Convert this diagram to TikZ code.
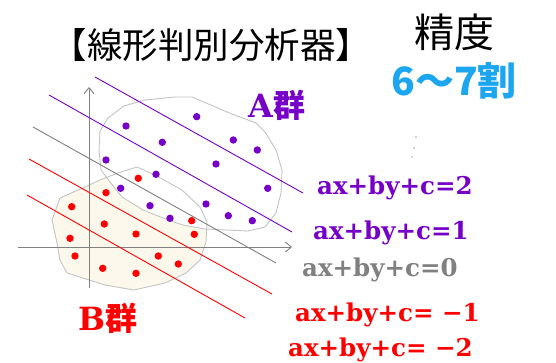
\documentclass[tikz,border=0pt]{standalone}
\usepackage{fontspec}
\setmainfont{DejaVu Serif}
\newfontfamily\jp{Noto Sans CJK JP}
\usetikzlibrary{arrows.meta}
\definecolor{apurple}{RGB}{118,0,200}
\definecolor{bred}{RGB}{255,0,0}
\definecolor{lgray}{RGB}{196,196,196}
\definecolor{axgray}{RGB}{128,128,128}
\definecolor{cream}{RGB}{253,248,236}
\definecolor{skyblue}{RGB}{28,166,240}
\tikzset{
  sepline/.style={line width=0.9pt},
  clusterline/.style={draw=lgray,line width=0.9pt},
  axisline/.style={draw=axgray,line width=0.9pt,-{Straight Barb[length=6pt,width=10pt]}},
  eqtext/.style={anchor=base west,inner sep=0pt,font=\bfseries\fontsize{24.5}{24.5}\selectfont},
  grouptext/.style={anchor=base west,inner sep=0pt,font=\bfseries\fontsize{32}{32}\selectfont},
}
\begin{document}
\begin{tikzpicture}[x=1pt,y=-1pt]
\useasboundingbox (0,0) rectangle (556,363);
% cluster B (filled)
\fill[cream] (60,198) -- (52,220) -- (57,243) -- (60,260) -- (67,273) -- (105,285) -- (134,290) -- (165,283) -- (186,273) -- (200,260) -- (206,242) -- (207,222) -- (200,207) -- (182,190) -- (155,175) -- (137,167) -- (118,173) -- (100,180) -- (85,187) -- cycle;
% cluster A (white fill)
\fill[white] (100,131) -- (108,118) -- (124,106) -- (145,100) -- (175,97) -- (192,97) -- (206,103) -- (232,114) -- (256,123) -- (265,132) -- (276,150) -- (282,170) -- (281,193) -- (276,213) -- (265,227) -- (248,231) -- (205,229) -- (183,225) -- (168,220) -- (143,210) -- (122,197) -- (110,182) -- (101,170) -- (99,150) -- cycle;
\draw[clusterline] (60,198) -- (52,220) -- (57,243) -- (60,260) -- (67,273) -- (105,285) -- (134,290) -- (165,283) -- (186,273) -- (200,260) -- (206,242) -- (207,222) -- (200,207) -- (182,190) -- (155,175) -- (137,167) -- (118,173) -- (100,180) -- (85,187) -- cycle;
\draw[clusterline] (100,131) -- (108,118) -- (124,106) -- (145,100) -- (175,97) -- (192,97) -- (206,103) -- (232,114) -- (256,123) -- (265,132) -- (276,150) -- (282,170) -- (281,193) -- (276,213) -- (265,227) -- (248,231) -- (205,229) -- (183,225) -- (168,220) -- (143,210) -- (122,197) -- (110,182) -- (101,170) -- (99,150) -- cycle;
% axes
\coordinate (yb) at (89,288);
\coordinate (yt) at (89,87);
\coordinate (xl) at (18,247);
\coordinate (xr) at (292,247);
\draw[axisline] (yb) -- (yt);
\draw[axisline] (xl) -- (xr);
% separating lines
\coordinate (p2a) at (95,77);  \coordinate (p2b) at (303,193);
\coordinate (p1a) at (49,95);  \coordinate (p1b) at (292,232);
\coordinate (p0a) at (33,127); \coordinate (p0b) at (276,263);
\coordinate (m1a) at (29,159); \coordinate (m1b) at (272,294);
\coordinate (m2a) at (27,195); \coordinate (m2b) at (245,318);
\draw[sepline,apurple] (p2a) -- (p2b);
\draw[sepline,apurple] (p1a) -- (p1b);
\draw[sepline,axgray] (p0a) -- (p0b);
\draw[sepline,bred] (m1a) -- (m1b);
\draw[sepline,bred] (m2a) -- (m2b);
% A points
\foreach \x/\y in {196.7/116.7,126/126,162.3/142.3,233.3/140,257.3/150,106/160,216/164,156/174.3,120.7/188.3,267.7/188.3,206/204,150/205.7,228.3/215.7,170/218.3,252.3/220.7}
  \fill[apurple] (\x,\y) circle (3.7);
% B points
\foreach \x/\y in {138.3/178.3,106/192.7,71.7/206.7,104.3/224,136/234,191.7/220.7,194.3/234.3,70/238.3,75/256,158.3/256,178.3/264,102.7/268.3,136/273.3}
  \fill[bred] (\x,\y) circle (3.7);
% faint dots
\foreach \x/\y in {416/137,414/148,412/157}
  \fill[axgray!70] (\x,\y) circle (0.8);
% texts
\node[font=\jp\fontsize{35.5}{35.5}\selectfont,inner sep=0pt] (title) at (211.5,45) {【線形判別分析器】};
\node[font=\jp\fontsize{40}{40}\selectfont,inner sep=0pt] (acc) at (454,32) {精度};
\node[font=\jp\bfseries\fontsize{39}{39}\selectfont,text=skyblue,inner sep=0pt] (accval) at (454,81) {6〜7割};
\node[grouptext,text=apurple] (lblA) at (248,118) {A{\jp\bfseries 群}};
\node[grouptext,text=bred] (lblB) at (78,330) {B{\jp\bfseries 群}};
\node[eqtext,text=apurple] (eq2) at (317,195) {ax+by+c=2};
\node[eqtext,text=apurple] (eq1) at (313,239) {ax+by+c=1};
\node[eqtext,text=axgray] (eq0) at (302,276.5) {ax+by+c=0};
\node[eqtext,text=bred] (eqm1) at (295,321) {ax+by+c= −1};
\node[eqtext,text=bred] (eqm2) at (288,356.5) {ax+by+c= −2};
\end{tikzpicture}
\end{document}
